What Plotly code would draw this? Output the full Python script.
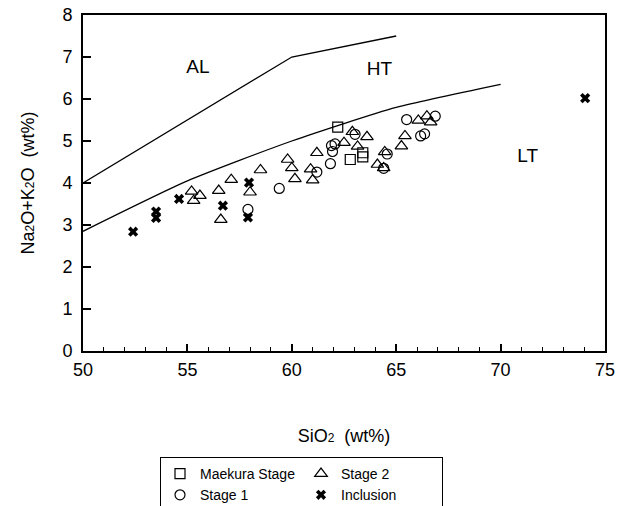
import plotly.graph_objects as go

# ---- data (SiO2 wt%, Na2O+K2O wt%) ----
maekura_x = [62.2, 62.8, 63.4, 63.4]
maekura_y = [5.33, 4.56, 4.72, 4.62]

stage1_x = [57.9, 59.4, 61.2, 61.85, 61.95, 61.9, 62.07, 63.03, 64.57, 64.4, 65.5, 66.17, 66.36, 66.87]
stage1_y = [3.37, 3.87, 4.26, 4.46, 4.75, 4.89, 4.93, 5.16, 4.69, 4.35, 5.51, 5.12, 5.17, 5.59]

stage2_x = [55.2, 55.6, 55.3, 56.5, 56.6, 57.1, 58.0, 58.5, 59.8, 60.0, 60.15, 60.9, 61.0, 61.2,
            62.5, 62.9, 63.15, 63.6, 64.1, 64.4, 64.45, 65.25, 65.42, 66.06, 66.47, 66.65]
stage2_y = [3.80, 3.70, 3.58, 3.82, 3.13, 4.08, 3.78, 4.31, 4.56, 4.36, 4.10, 4.33, 4.07, 4.72,
            4.96, 5.22, 4.87, 5.10, 4.44, 4.36, 4.74, 4.88, 5.12, 5.49, 5.59, 5.45]

incl_x = [52.4, 53.5, 53.5, 54.6, 56.7, 57.95, 57.9, 74.05]
incl_y = [2.84, 3.32, 3.17, 3.62, 3.46, 4.01, 3.18, 6.02]

# boundary lines
al_ht_x = [50, 60, 65]
al_ht_y = [4.0, 7.0, 7.5]
ht_lt_x = [50, 55, 60, 65, 70]
ht_lt_y = [2.85, 4.05, 5.0, 5.8, 6.35]

# field labels
field_names = ["AL", "HT", "LT"]
field_x = [55.5, 64.2, 71.3]
field_y = [6.74, 6.69, 4.62]

x_ticks = [50, 55, 60, 65, 70, 75]
y_ticks = [0, 1, 2, 3, 4, 5, 6, 7, 8]

FONT = "Arial, Liberation Sans, sans-serif"
fig = go.Figure()

fig.add_trace(go.Scatter(x=al_ht_x, y=al_ht_y, mode="lines",
                         line=dict(color="black", width=1.3), showlegend=False, hoverinfo="skip"))
fig.add_trace(go.Scatter(x=ht_lt_x, y=ht_lt_y, mode="lines", line_shape="spline",
                         line=dict(color="black", width=1.3, smoothing=0.6), showlegend=False, hoverinfo="skip"))

mk = dict(color="black", width=1.2)
fig.add_trace(go.Scatter(x=maekura_x, y=maekura_y, mode="markers", name="Maekura Stage",
                         legendgroup="a",
                         marker=dict(symbol="square-open", size=10, color="black", line=mk)))
fig.add_trace(go.Scatter(x=stage1_x, y=stage1_y, mode="markers", name="Stage 1",
                         legendgroup="a",
                         marker=dict(symbol="circle-open", size=10, color="black", line=mk)))
fig.add_trace(go.Scatter(x=stage2_x, y=stage2_y, mode="markers", name="Stage 2",
                         legendgroup="b",
                         marker=dict(symbol="triangle-up-open", size=11, color="black", line=mk)))
fig.add_trace(go.Scatter(x=incl_x, y=incl_y, mode="markers", name="Inclusion",
                         legendgroup="b",
                         marker=dict(symbol="x", size=9, color="black", line=dict(width=0))))

fig.add_trace(go.Scatter(x=field_x, y=field_y, mode="text", text=field_names,
                         textfont=dict(family=FONT, size=19, color="black"),
                         showlegend=False, hoverinfo="skip"))

fig.update_layout(
    width=625, height=506,
    margin=dict(l=83, r=20, t=15, b=155, autoexpand=False),
    paper_bgcolor="white", plot_bgcolor="white",
    font=dict(family=FONT, color="black"),
    legend=dict(orientation="h", traceorder="grouped", xref="container", yref="container",
                x=160 / 625, xanchor="left", y=1 - 457 / 506, yanchor="top",
                bordercolor="black", borderwidth=1, entrywidth=96,
                font=dict(size=14, family=FONT), tracegroupgap=0, bgcolor="white"),
)
sub = '<span style="font-size:12px">2</span>'
fig.update_xaxes(range=[50, 75], tickvals=x_ticks, ticks="inside", ticklen=7, tickwidth=1.5,
                 tickcolor="black", showline=True, linecolor="black", linewidth=2, mirror=True,
                 showgrid=False, zeroline=False, tickfont=dict(size=18), ticklabelstandoff=1,
                 minor=dict(dtick=1, ticks="inside", ticklen=4, tickcolor="black", tickwidth=1),
                 title=dict(text="SiO" + sub + "\u00a0\u00a0(wt%)", font=dict(size=18), standoff=51))
fig.update_yaxes(range=[0, 8], tickvals=y_ticks, ticks="inside", ticklen=8, tickwidth=1.5,
                 tickcolor="black", showline=True, linecolor="black", linewidth=2, mirror=True,
                 showgrid=False, zeroline=False, tickfont=dict(size=18), ticklabelstandoff=5,
                 title=dict(text="Na" + sub + "O+K" + sub + "O\u00a0\u00a0(wt%)", font=dict(size=18), standoff=23))

fig.write_html("out.html")
